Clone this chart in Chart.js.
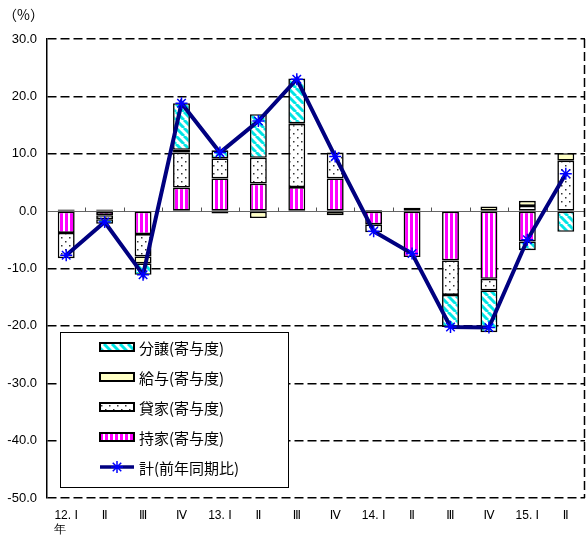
<!DOCTYPE html>
<html>
<head>
<meta charset="utf-8">
<script src="https://cdn.jsdelivr.net/npm/chart.js@4.4.1/dist/chart.umd.min.js"></script>
<style>
  html, body { margin: 0; padding: 0; background: #fff; }
  #wrap { width: 587px; height: 538px; }
</style>
</head>
<body>
<div id="wrap"><canvas id="c" width="587" height="538"></canvas></div>
<script>
// Quarterly contributions (percentage points) to housing starts, with the year-on-year total
const quarters = ['12. Ⅰ', 'Ⅱ', 'Ⅲ', 'Ⅳ', '13. Ⅰ', 'Ⅱ', 'Ⅲ', 'Ⅳ', '14. Ⅰ', 'Ⅱ', 'Ⅲ', 'Ⅳ', '15. Ⅰ', 'Ⅱ'];
const owned   = [-3.8, -0.7, -4.0, 4.1, 5.7, 4.8, 4.2, 5.7, -2.3, -8.0, -8.6, -11.8, -5.3, 0.0];   // 持家
const rented  = [-4.4, -0.7, -3.9, 6.1, 3.5, 4.5, 11.0, 4.5, -1.4, 0.6, -6.0, -2.0, 0.9, 8.8];   // 貸家
const issued  = [0.3, 0.3, -1.2, 0.5, -0.4, -1.2, 0.1, -0.7, 0.2, 0.0, 0.0, 0.8, 0.9, 1.3];      // 給与
const forSale = [0.0, -0.8, -2.0, 8.1, 1.4, 7.6, 7.8, 0.0, 0.0, 0.0, -5.6, -7.3, -1.5, -3.6];     // 分譲
const total   = [-7.7, -1.9, -11.1, 18.8, 10.2, 15.7, 23.0, 9.5, -3.5, -7.4, -20.2, -20.3, -5.0, 6.5]; // 計
const yTicks  = { min: -50, max: 30, step: 10 };

const NUM_FONT = "'Liberation Sans', 'DejaVu Sans', sans-serif";
const JP_FONT = "'Noto Sans CJK JP', sans-serif";

function makePattern(w, h, paint) {
  const c = document.createElement('canvas');
  c.width = w; c.height = h;
  const g = c.getContext('2d');
  paint(g, w, h);
  return g.createPattern(c, 'repeat');
}

// cyan diagonal hatch
const patSale = makePattern(8, 8, (g) => {
  g.fillStyle = '#fff'; g.fillRect(0, 0, 8, 8);
  g.strokeStyle = '#00E5E5'; g.lineWidth = 3;
  for (const o of [-8, 0, 8]) { g.beginPath(); g.moveTo(o, 0); g.lineTo(o + 8, 8); g.stroke(); }
});
// pale yellow solid
const fillIssued = '#FFFFC4';
// sparse dots
const patRented = makePattern(8, 8, (g) => {
  g.fillStyle = '#fff'; g.fillRect(0, 0, 8, 8);
  g.fillStyle = '#333';
  g.fillRect(1, 1, 1.5, 1.5);
  g.fillRect(5, 5, 1.5, 1.5);
});
// magenta vertical stripes
const patOwned = makePattern(5, 4, (g) => {
  g.fillStyle = '#fff'; g.fillRect(0, 0, 5, 4);
  g.fillStyle = '#FF00FF'; g.fillRect(0, 0, 3, 4);
});

const barCommon = {
  type: 'bar', stack: 'parts', order: 1,
  borderColor: '#000', borderWidth: 1.6, borderSkipped: false,
  categoryPercentage: 1.0, barPercentage: 0.44
};

const legendItems = [
  { label: '分譲(寄与度)', fill: patSale },
  { label: '給与(寄与度)', fill: fillIssued },
  { label: '貸家(寄与度)', fill: patRented },
  { label: '持家(寄与度)', fill: patOwned },
  { label: '計(前年同期比)', line: true }
];

function drawStar(ctx, x, y, r) {
  ctx.beginPath();
  ctx.moveTo(x - r, y); ctx.lineTo(x + r, y);
  ctx.moveTo(x, y - r); ctx.lineTo(x, y + r);
  const d = r * Math.SQRT1_2;
  ctx.moveTo(x - d, y - d); ctx.lineTo(x + d, y + d);
  ctx.moveTo(x - d, y + d); ctx.lineTo(x + d, y - d);
  ctx.stroke();
}

const framePlugin = {
  id: 'frame',
  beforeDatasetsDraw(chart) {
    const { ctx, chartArea: ca, scales } = chart;
    const xs = scales.x, ys = scales.y;
    ctx.save();
    // right edge, dashed
    ctx.strokeStyle = '#000'; ctx.lineWidth = 1.5; ctx.setLineDash([9, 4]);
    ctx.beginPath(); ctx.moveTo(ca.right - 0.5, ca.top); ctx.lineTo(ca.right - 0.5, ca.bottom); ctx.stroke();
    // small ticks on the zero line between quarters
    ctx.setLineDash([]); ctx.lineWidth = 1; ctx.strokeStyle = '#555';
    const y0 = Math.round(ys.getPixelForValue(0)) + 0.5;
    for (let i = 1; i < quarters.length; i++) {
      const xb = Math.round((xs.getPixelForValue(i - 1) + xs.getPixelForValue(i)) / 2) + 0.5;
      ctx.beginPath(); ctx.moveTo(xb, y0 - 4); ctx.lineTo(xb, y0); ctx.stroke();
    }
    ctx.restore();
  },
  afterDraw(chart) {
    const { ctx, chartArea: ca } = chart;
    ctx.save();
    // unit label
    ctx.fillStyle = '#000';
    ctx.font = '14px ' + JP_FONT;
    ctx.textAlign = 'left'; ctx.textBaseline = 'middle';
    ctx.fillText('（%）', ca.left - 44, ca.top - 24);

    // legend box
    const bx = ca.left + 13, by = ca.top + 293, bw = 228, bh = 155;
    ctx.fillStyle = '#fff'; ctx.fillRect(bx, by, bw, bh);
    ctx.strokeStyle = '#000'; ctx.lineWidth = 1;
    ctx.strokeRect(bx + 0.5, by + 0.5, bw, bh);
    legendItems.forEach((it, i) => {
      const cy = by + 15 + i * 30;
      const sx = bx + 40, sw = 34;
      if (it.line) {
        ctx.strokeStyle = '#000080'; ctx.lineWidth = 3.5;
        ctx.beginPath(); ctx.moveTo(sx, cy); ctx.lineTo(sx + sw, cy); ctx.stroke();
        ctx.strokeStyle = '#0000FF'; ctx.lineWidth = 1.5;
        drawStar(ctx, sx + sw / 2, cy, 6);
      } else {
        ctx.fillStyle = it.fill;
        ctx.fillRect(sx, cy - 4, sw, 8);
        ctx.strokeStyle = '#000'; ctx.lineWidth = 2;
        ctx.strokeRect(sx, cy - 4, sw, 8);
      }
      ctx.fillStyle = '#000';
      ctx.font = '15px ' + JP_FONT;
      ctx.textAlign = 'left'; ctx.textBaseline = 'middle';
      ctx.fillText(it.label, sx + sw + 5, cy + 1);
    });
    ctx.restore();
  }
};

new Chart(document.getElementById('c'), {
  data: {
    labels: quarters.map((q, i) => i === 0 ? [q, '年    '] : q),
    datasets: [
      {
        type: 'line', label: '計(前年同期比)', data: total, stack: 'sum', order: 0,
        borderColor: '#000080', borderWidth: 4, tension: 0, fill: false,
        pointStyle: 'star', pointRadius: 6, pointBorderColor: '#0000FF',
        pointBackgroundColor: '#0000FF', pointBorderWidth: 1.5
      },
      Object.assign({ label: '持家(寄与度)', data: owned, backgroundColor: patOwned }, barCommon),
      Object.assign({ label: '貸家(寄与度)', data: rented, backgroundColor: patRented }, barCommon),
      Object.assign({ label: '給与(寄与度)', data: issued, backgroundColor: fillIssued }, barCommon),
      Object.assign({ label: '分譲(寄与度)', data: forSale, backgroundColor: patSale }, barCommon)
    ]
  },
  options: {
    responsive: false,
    devicePixelRatio: 1,
    animation: false,
    events: [],
    layout: { autoPadding: false, padding: { top: 39, right: 2, left: 0, bottom: 0 } },
    plugins: { legend: { display: false }, tooltip: { enabled: false }, title: { display: false } },
    scales: {
      x: {
        stacked: true,
        grid: { display: true, drawOnChartArea: false, drawTicks: true, tickLength: 10, color: 'rgba(0,0,0,0)' },
        border: { display: false },
        ticks: {
          color: '#000', font: { family: NUM_FONT, size: 12 },
          padding: 0, maxRotation: 0, autoSkip: false
        },
        afterFit(s) { s.height = 40; }
      },
      y: {
        stacked: true,
        min: yTicks.min, max: yTicks.max,
        grid: {
          drawTicks: false,
          color: (c) => (c.tick && c.tick.value === 0) ? '#666' : '#000',
          lineWidth: (c) => (c.tick && c.tick.value === 0) ? 1 : 1.5
        },
        border: {
          display: true, color: '#000', width: 1.5,
          dash: (c) => (c.tick && c.tick.value === 0) ? [] : [9, 4]
        },
        ticks: {
          stepSize: yTicks.step, color: '#000', padding: 10,
          font: { family: NUM_FONT, size: 13 },
          callback: (v) => Number(v).toFixed(1)
        },
        afterFit(s) { s.width = 47; }
      }
    }
  },
  plugins: [framePlugin]
});
</script>
</body>
</html>
